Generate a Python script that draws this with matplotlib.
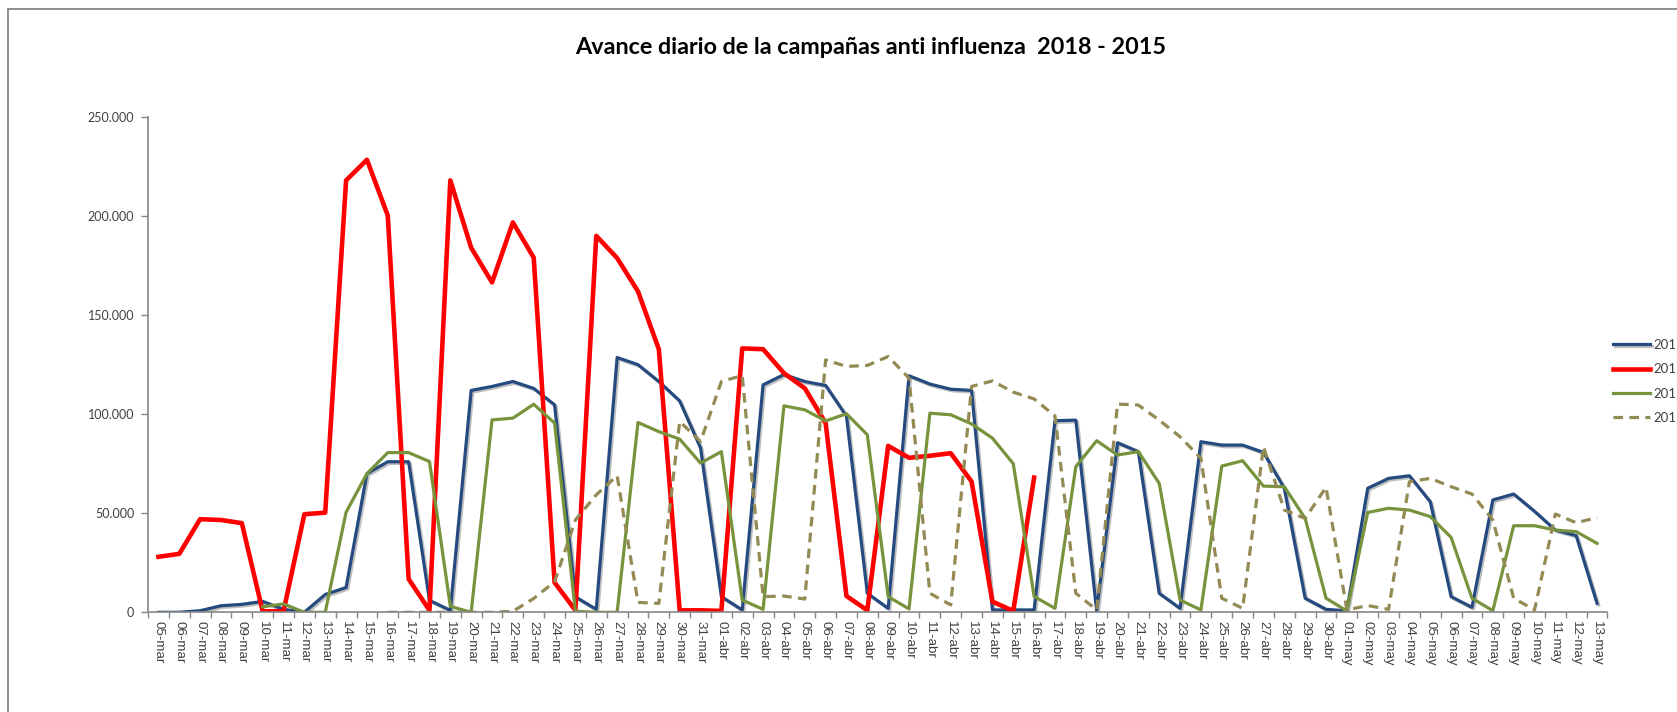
import matplotlib
matplotlib.use("Agg")
import matplotlib.pyplot as plt
import matplotlib.patheffects as pe
from matplotlib.lines import Line2D
from matplotlib.ticker import FuncFormatter, FixedLocator
import numpy as np

plt.rcParams['font.family'] = ['Lato', 'DejaVu Sans']

# categories: 05-mar .. 13-may
days = ([f"{d:02d}-mar" for d in range(5, 32)] +
        [f"{d:02d}-abr" for d in range(1, 31)] +
        [f"{d:02d}-may" for d in range(1, 14)])

# legend entries as they show in the (right-cropped) chart
legend_labels = ["201", "201", "201", "201"]

nan = np.nan

s_2017 = [0, 0, 800, 3300, 4000, 5500, 1500, 0, 9000, 12500,
          70000, 76000, 76000, 6000, 1000, 112000, 114000, 116500, 113000, 104700,
          7800, 1500, 128600, 125000, 116500, 106700, 83000, 7900, 1200, 114800,
          120000, 116500, 114500, 99000, 9600, 2000, 119400, 115200, 112600, 112000,
          1200, 1200, 1200, 96700, 97000, 700, 85600, 81100, 9600, 2000,
          86100, 84400, 84400, 80700, 62600, 7100, 1500, 700, 62600, 67600,
          68900, 55800, 7900, 2500, 56700, 59700, 51000, 41500, 38700, 4500]

s_2018 = [28000, 29500, 47000, 46600, 45000, 500, 500, 49500, 50300, 218000,
          228400, 200300, 16800, 1000, 218000, 184000, 166500, 196800, 179000, 15000,
          1000, 190000, 178800, 162000, 132800, 1000, 1000, 700, 133200, 132800,
          120700, 113100, 95500, 8200, 1000, 84000, 78000, 79000, 80300, 66000,
          5400, 700, 68000] + [nan] * 27

s_2016 = [nan, nan, nan, nan, nan, 2800, 4200, 0, 0, 50500,
          70000, 80600, 80600, 76100, 3000, 0, 97100, 98000, 105000, 95500,
          500, 0, 0, 95800, 91200, 87400, 75300, 81100, 6200, 1500,
          104200, 102200, 96600, 100200, 89600, 7900, 1700, 100500, 99700, 95100,
          87900, 75000, 8000, 2000, 73500, 86600, 79400, 81100, 65100, 6200,
          1200, 73800, 76500, 63700, 63400, 47400, 7100, 700, 50400, 52500,
          51600, 48300, 37800, 7100, 800, 43700, 43700, 41500, 40700, 34800]

s_2015 = [nan] * 11 + [0, 0, 0, 0, 0, 0, 500, 7000, 15400,
          46600, 59300, 69000, 5000, 4500, 96300, 86200, 116500, 119500, 7900,
          8200, 6700, 127400, 124100, 124600, 129100, 118200, 9600, 3700, 114000,
          116800, 111100, 107700, 99100, 9600, 1200, 105100, 104600, 97000, 88600,
          77700, 7100, 2000, 83600, 51600, 47400, 63100, 1200, 3400, 1500,
          65900, 67600, 63400, 59700, 46600, 7100, 1200, 49600, 45200, 47800]

W, H = 1677, 712
fig = plt.figure(figsize=(W / 100, H / 100), dpi=100)
ax = fig.add_axes([148 / W, 1 - 612.3 / H, (1607.5 - 148) / W, (612.3 - 117) / H])

x = np.arange(len(days))
gray = "#868686"
txt = "#404040"

ax.plot(x, s_2017, color="#254A7F", lw=2.3, label=legend_labels[0],
        path_effects=[pe.SimpleLineShadow(offset=(1.2, -1.2), alpha=0.25), pe.Normal()])
ax.plot(x, s_2018, color="#FF0000", lw=3.3, label=legend_labels[1])
ax.plot(x, s_2016, color="#77933C", lw=2.3, label=legend_labels[2])
ax.plot(x, s_2015, color="#948A54", lw=2.3, ls=(0, (3, 2)), label=legend_labels[3])

ax.set_xlim(-0.5, len(days) - 0.5)
ax.set_ylim(0, 250000)
ax.set_yticks(np.arange(0, 250001, 50000))
ax.yaxis.set_major_formatter(FuncFormatter(lambda v, p: f"{int(v):,}".replace(",", ".")))

ax.xaxis.set_major_locator(FixedLocator(np.arange(-0.5, len(days), 1.0)))
ax.xaxis.set_major_formatter(FuncFormatter(lambda v, p: ""))
ax.set_xticks(x, minor=True)
ax.set_xticklabels(days, minor=True, rotation=-90, fontsize=9.6, color=txt,
                   family=['Liberation Sans', 'DejaVu Sans'])
ax.tick_params(axis='x', which='minor', length=0, pad=6)
ax.tick_params(axis='x', which='major', length=4, color=gray, width=1)
ax.tick_params(axis='y', length=5, color=gray, width=1, pad=5, labelsize=9, labelcolor=txt)

for side in ("top", "right"):
    ax.spines[side].set_visible(False)
for side in ("left", "bottom"):
    ax.spines[side].set_color(gray)
    ax.spines[side].set_linewidth(1.2)

fig.text(871 / W, 1 - 48 / H, "Avance diario de la campañas anti influenza  2018 - 2015",
         ha="center", va="center", fontsize=16.8, fontweight="bold", color="#000000")

leg = fig.legend(loc="upper left", bbox_to_anchor=(1613 / W, 1 - 339 / H),
                 frameon=False, fontsize=9.5, handlelength=2.8, handletextpad=0.23,
                 labelspacing=0.93, borderpad=0, borderaxespad=0)
for t in leg.get_texts():
    t.set_color(txt)

# chart area border (cropped at right and bottom)
fig.add_artist(Line2D([8 / W, 1.0], [1 - 9 / H, 1 - 9 / H], transform=fig.transFigure,
                      color=gray, lw=1.3))
fig.add_artist(Line2D([8 / W, 8 / W], [0.0, 1 - 9 / H], transform=fig.transFigure,
                      color=gray, lw=1.3))

fig.savefig("out.png", dpi=100, facecolor="white")
